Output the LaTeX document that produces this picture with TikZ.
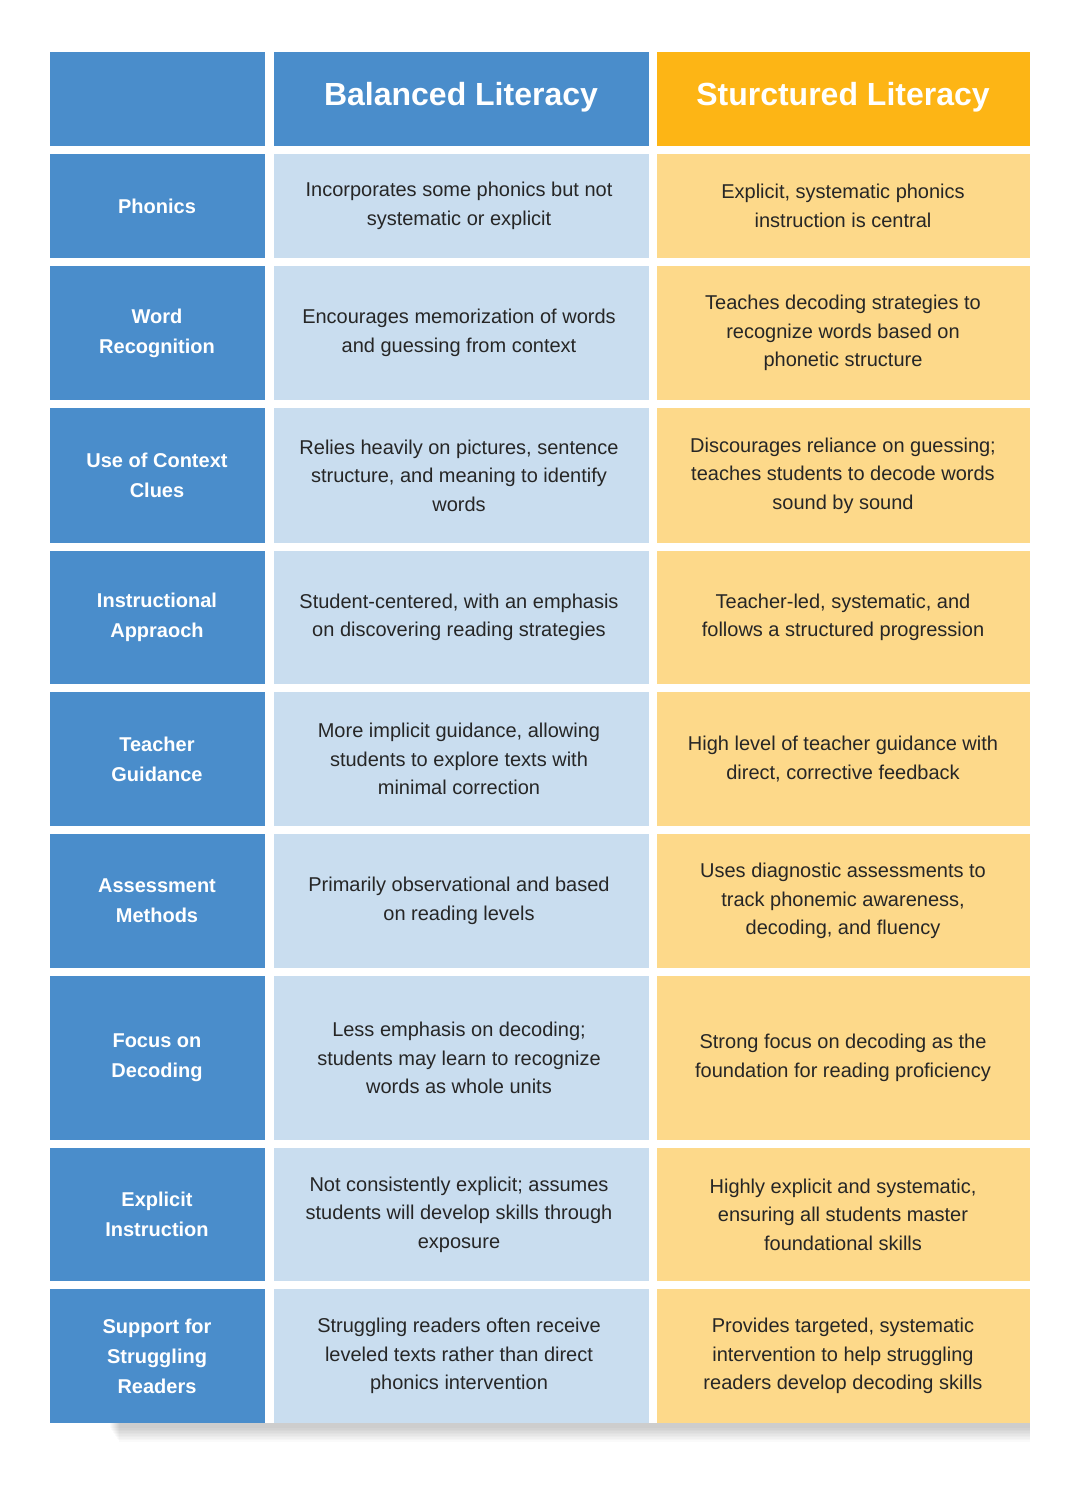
\documentclass[tikz,border=0pt]{standalone}
\usepackage{fontspec}
\setmainfont{Liberation Sans}
\definecolor{bluehead}{HTML}{4A8DCB}
\definecolor{bluecell}{HTML}{C9DDEF}
\definecolor{orangehead}{HTML}{FDB515}
\definecolor{orangecell}{HTML}{FDD98A}
\tikzset{
    cell/.style={inner sep=0pt, align=center, font=\fontsize{20}{28.5}\selectfont, text=black!85},
    side/.style={cell, text=white, font=\bfseries\fontsize{20}{30}\selectfont},
    head/.style={cell, text=white, font=\bfseries\fontsize{32}{38}\selectfont}
}
% one table row: top, bottom, label, balanced, structured
\newcommand{\tablerow}[6]{
    \fill[bluehead] (50,#2) rectangle (265,#3);
    \fill[bluecell] (274,#2) rectangle (649,#3);
    \fill[orangecell] (657,#2) rectangle (1030,#3);
    \node[side] (#1a) at (157,{(#2+#3)/2}) {#4};
    \node[cell] (#1b) at (459,{(#2+#3)/2}) {#5};
    \node[cell] (#1c) at (843,{(#2+#3)/2}) {#6};
}
\begin{document}
\begin{tikzpicture}[x=1pt, y=-1pt]
	\useasboundingbox[fill=white] (0,0) rectangle (1080,1500);
	% shadow
	\foreach \i in {0,...,9}
		\fill[black, opacity=0.02] (110+\i,1423) rectangle (1030,1428+1.5*\i);
	
	\fill[bluehead] (50,52) rectangle (265,146);
	\fill[bluehead] (274,52) rectangle (649,146);
	\fill[orangehead] (657,52) rectangle (1030,146);
	\node[head] (balanced) at (461,97) {Balanced Literacy};
	\node[head] (structured) at (843,97) {Sturctured Literacy};
	
	\tablerow{phon}{154}{258}{Phonics}{Incorporates some phonics but not\\systematic or explicit}{Explicit, systematic phonics\\instruction is central}
	\tablerow{word}{266}{400}{Word\\Recognition}{Encourages memorization of words\\and guessing from context}{Teaches decoding strategies to\\recognize words based on\\phonetic structure}
	\tablerow{cont}{408}{543}{Use of Context\\Clues}{Relies heavily on pictures, sentence\\structure, and meaning to identify\\words}{Discourages reliance on guessing;\\teaches students to decode words\\sound by sound}
	\tablerow{appr}{551}{684}{Instructional\\Appraoch}{Student-centered, with an emphasis\\on discovering reading strategies}{Teacher-led, systematic, and\\follows a structured progression}
	\tablerow{guid}{692}{826}{Teacher\\Guidance}{More implicit guidance, allowing\\students to explore texts with\\minimal correction}{High level of teacher guidance with\\direct, corrective feedback}
	\tablerow{asse}{834}{968}{Assessment\\Methods}{Primarily observational and based\\on reading levels}{Uses diagnostic assessments to\\track phonemic awareness,\\decoding, and fluency}
	\tablerow{deco}{976}{1140}{Focus on\\Decoding}{Less emphasis on decoding;\\students may learn to recognize\\words as whole units}{Strong focus on decoding as the\\foundation for reading proficiency}
	\tablerow{expl}{1148}{1281}{Explicit\\Instruction}{Not consistently explicit; assumes\\students will develop skills through\\exposure}{Highly explicit and systematic,\\ensuring all students master\\foundational skills}
	\tablerow{supp}{1289}{1423}{Support for\\Struggling\\Readers}{Struggling readers often receive\\leveled texts rather than direct\\phonics intervention}{Provides targeted, systematic\\intervention to help struggling\\readers develop decoding skills}
\end{tikzpicture}
\end{document}
